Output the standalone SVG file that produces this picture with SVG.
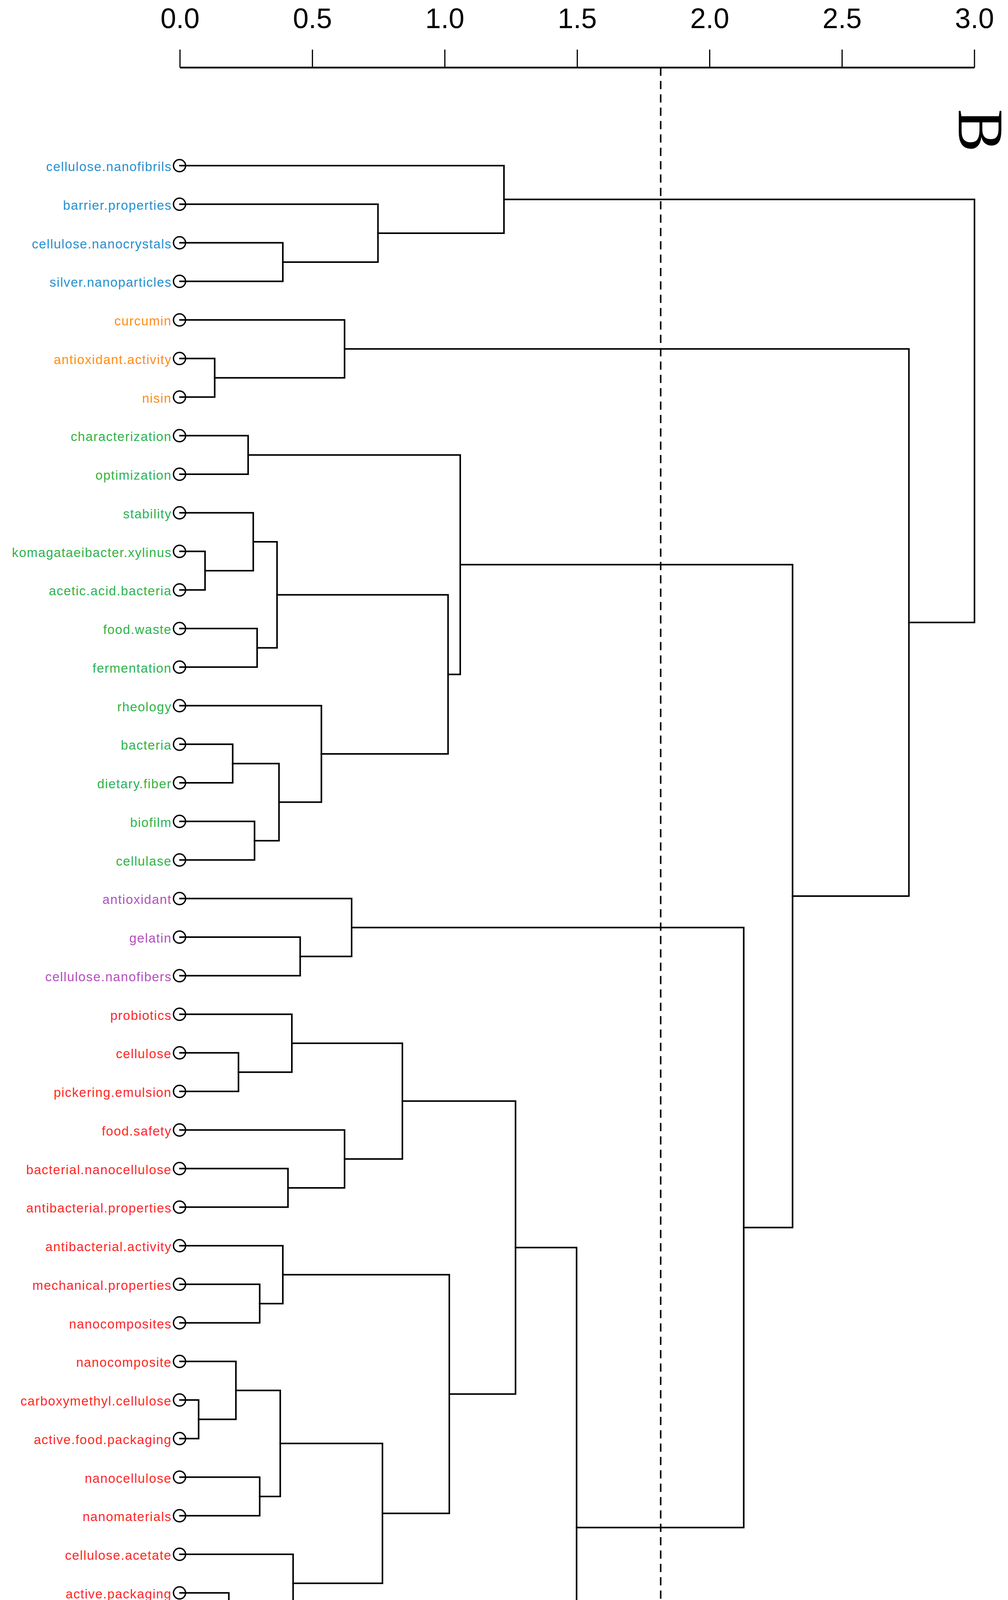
<svg xmlns="http://www.w3.org/2000/svg" width="2580" height="5431" viewBox="0 0 2580 5431">
<style>
.bg{fill:#ffffff}
.axis line{stroke:#000;stroke-width:3}
.axis .base{stroke-width:4.5}
.axis text{font-family:"Liberation Sans",Arial,sans-serif;font-size:72px;text-anchor:middle;fill:#000}
.cut{stroke:#000;stroke-width:4;stroke-dasharray:21 13.2;fill:none}
.edges path{fill:none;stroke:#000;stroke-width:4;stroke-linejoin:miter;stroke-linecap:square}
.leaf circle{fill:none;stroke:#000;stroke-width:3.5}
.leaf text{font-family:"Liberation Sans",Arial,sans-serif;font-size:33px;letter-spacing:1.6px;text-anchor:end}
.blue text{fill:#2590cf}
.orange text{fill:#ff8c1a}
.green text{fill:#2db34a}
.purple text{fill:#b450be}
.red text{fill:#ff2626}
.panel{font-family:"Liberation Serif","Times New Roman",serif;font-size:165px;fill:#000}
</style>
<rect class="bg" x="0" y="0" width="2580" height="5431"/>
<g id="axis" class="axis">
<line class="base" x1="460.7" y1="173" x2="2494.2" y2="173"/>
<line x1="460.7" y1="127" x2="460.7" y2="173"/>
<line x1="799.7" y1="127" x2="799.7" y2="173"/>
<line x1="1138.6" y1="127" x2="1138.6" y2="173"/>
<line x1="1477.6" y1="127" x2="1477.6" y2="173"/>
<line x1="1816.5" y1="127" x2="1816.5" y2="173"/>
<line x1="2155.4" y1="127" x2="2155.4" y2="173"/>
<line x1="2494.2" y1="127" x2="2494.2" y2="173"/>
<text x="460.7" y="72">0.0</text>
<text x="799.7" y="72">0.5</text>
<text x="1138.6" y="72">1.0</text>
<text x="1477.6" y="72">1.5</text>
<text x="1816.5" y="72">2.0</text>
<text x="2155.4" y="72">2.5</text>
<text x="2494.2" y="72">3.0</text>
</g>
<g id="cut-line"><line class="cut" x1="1691" y1="173" x2="1691" y2="5400"/></g>
<g id="panel-label"><text class="panel" transform="translate(2454,279) rotate(90)">B</text></g>
<g id="connectors" class="edges">
<path d="M460.7,621.6 H723.9 V720.35 H460.7"/>
<path d="M460.7,522.85 H967.4 V671.0 H723.9"/>
<path d="M460.7,424.1 H1289.9 V596.9 H967.4"/>
<path d="M460.7,917.85 H549.5 V1016.6 H460.7"/>
<path d="M460.7,819.1 H881.9 V967.2 H549.5"/>
<path d="M460.7,1115.35 H635.1 V1214.1 H460.7"/>
<path d="M460.7,1411.6 H524.8 V1510.35 H460.7"/>
<path d="M460.7,1312.85 H648.2 V1461.0 H524.8"/>
<path d="M460.7,1609.1 H658.1 V1707.85 H460.7"/>
<path d="M648.2,1386.9 H709.1 V1658.5 H658.1"/>
<path d="M460.7,1905.35 H595.6 V2004.1 H460.7"/>
<path d="M460.7,2102.85 H651.5 V2201.6 H460.7"/>
<path d="M595.6,1954.7 H714.1 V2152.2 H651.5"/>
<path d="M460.7,1806.6 H822.6 V2053.5 H714.1"/>
<path d="M709.1,1522.7 H1146.8 V1930.0 H822.6"/>
<path d="M635.1,1164.7 H1178.0 V1726.4 H1146.8"/>
<path d="M460.7,2399.1 H768.3 V2497.85 H460.7"/>
<path d="M460.7,2300.35 H900.0 V2448.5 H768.3"/>
<path d="M460.7,2695.35 H610.4 V2794.1 H460.7"/>
<path d="M460.7,2596.6 H747.0 V2744.7 H610.4"/>
<path d="M460.7,2991.6 H737.1 V3090.35 H460.7"/>
<path d="M460.7,2892.85 H881.9 V3041.0 H737.1"/>
<path d="M747.0,2670.7 H1029.9 V2966.9 H881.9"/>
<path d="M460.7,3287.85 H664.7 V3386.6 H460.7"/>
<path d="M460.7,3189.1 H723.9 V3337.2 H664.7"/>
<path d="M460.7,3584.1 H508.4 V3682.85 H460.7"/>
<path d="M460.7,3485.35 H603.8 V3633.5 H508.4"/>
<path d="M460.7,3781.6 H664.7 V3880.35 H460.7"/>
<path d="M603.8,3559.4 H717.3 V3831.0 H664.7"/>
<path d="M460.7,4077.85 H585.7 V4176.6 H460.7"/>
<path d="M460.7,3979.1 H750.2 V4127.2 H585.7"/>
<path d="M717.3,3695.2 H978.9 V4053.2 H750.2"/>
<path d="M723.9,3263.2 H1150.0 V3874.2 H978.9"/>
<path d="M1029.9,2818.8 H1319.5 V3568.7 H1150.0"/>
<path d="M460.7,4472.85 H658.1 V4571.6 H460.7"/>
<path d="M460.7,4374.1 H806.2 V4522.2 H658.1"/>
<path d="M460.7,4275.35 H900.0 V4448.2 H806.2"/>
<path d="M460.7,4670.35 H671.3 V4769.1 H460.7"/>
<path d="M460.7,4867.85 H691.0 V4966.6 H460.7"/>
<path d="M460.7,5065.35 H557.7 V5164.1 H460.7"/>
<path d="M460.7,5262.85 H646.6 V5361.6 H460.7"/>
<path d="M557.7,5114.7 H691.0 V5312.2 H646.6"/>
<path d="M691.0,4917.2 H914.8 V5213.5 H691.0"/>
<path d="M671.3,4719.7 H998.7 V5065.4 H914.8"/>
<path d="M900.0,4361.8 H1319.5 V4892.5 H998.7"/>
<path d="M1319.5,3193.7 H1475.8 V4627.2 H1319.5"/>
<path d="M900.0,2374.4 H1903.6 V3910.4 H1475.8"/>
<path d="M1178.0,1445.5 H2028.6 V3142.4 H1903.6"/>
<path d="M881.9,893.2 H2326.4 V2294.0 H2028.6"/>
<path d="M1289.9,510.5 H2494.2 V1593.6 H2326.4"/>
</g>
<g id="leaves">
<g id="leaf-cellulose-nanofibrils" class="leaf blue"><circle cx="459.5" cy="424.1" r="15.5"/><text x="439.5" y="438.1">cellulose.nanofibrils</text></g>
<g id="leaf-barrier-properties" class="leaf blue"><circle cx="459.5" cy="522.85" r="15.5"/><text x="439.5" y="536.85">barrier.properties</text></g>
<g id="leaf-cellulose-nanocrystals" class="leaf blue"><circle cx="459.5" cy="621.6" r="15.5"/><text x="439.5" y="635.6">cellulose.nanocrystals</text></g>
<g id="leaf-silver-nanoparticles" class="leaf blue"><circle cx="459.5" cy="720.35" r="15.5"/><text x="439.5" y="734.35">silver.nanoparticles</text></g>
<g id="leaf-curcumin" class="leaf orange"><circle cx="459.5" cy="819.1" r="15.5"/><text x="439.5" y="833.1">curcumin</text></g>
<g id="leaf-antioxidant-activity" class="leaf orange"><circle cx="459.5" cy="917.85" r="15.5"/><text x="439.5" y="931.85">antioxidant.activity</text></g>
<g id="leaf-nisin" class="leaf orange"><circle cx="459.5" cy="1016.6" r="15.5"/><text x="439.5" y="1030.6">nisin</text></g>
<g id="leaf-characterization" class="leaf green"><circle cx="459.5" cy="1115.35" r="15.5"/><text x="439.5" y="1129.35">characterization</text></g>
<g id="leaf-optimization" class="leaf green"><circle cx="459.5" cy="1214.1" r="15.5"/><text x="439.5" y="1228.1">optimization</text></g>
<g id="leaf-stability" class="leaf green"><circle cx="459.5" cy="1312.85" r="15.5"/><text x="439.5" y="1326.85">stability</text></g>
<g id="leaf-komagataeibacter-xylinus" class="leaf green"><circle cx="459.5" cy="1411.6" r="15.5"/><text x="439.5" y="1425.6">komagataeibacter.xylinus</text></g>
<g id="leaf-acetic-acid-bacteria" class="leaf green"><circle cx="459.5" cy="1510.35" r="15.5"/><text x="439.5" y="1524.35">acetic.acid.bacteria</text></g>
<g id="leaf-food-waste" class="leaf green"><circle cx="459.5" cy="1609.1" r="15.5"/><text x="439.5" y="1623.1">food.waste</text></g>
<g id="leaf-fermentation" class="leaf green"><circle cx="459.5" cy="1707.85" r="15.5"/><text x="439.5" y="1721.85">fermentation</text></g>
<g id="leaf-rheology" class="leaf green"><circle cx="459.5" cy="1806.6" r="15.5"/><text x="439.5" y="1820.6">rheology</text></g>
<g id="leaf-bacteria" class="leaf green"><circle cx="459.5" cy="1905.35" r="15.5"/><text x="439.5" y="1919.35">bacteria</text></g>
<g id="leaf-dietary-fiber" class="leaf green"><circle cx="459.5" cy="2004.1" r="15.5"/><text x="439.5" y="2018.1">dietary.fiber</text></g>
<g id="leaf-biofilm" class="leaf green"><circle cx="459.5" cy="2102.85" r="15.5"/><text x="439.5" y="2116.85">biofilm</text></g>
<g id="leaf-cellulase" class="leaf green"><circle cx="459.5" cy="2201.6" r="15.5"/><text x="439.5" y="2215.6">cellulase</text></g>
<g id="leaf-antioxidant" class="leaf purple"><circle cx="459.5" cy="2300.35" r="15.5"/><text x="439.5" y="2314.35">antioxidant</text></g>
<g id="leaf-gelatin" class="leaf purple"><circle cx="459.5" cy="2399.1" r="15.5"/><text x="439.5" y="2413.1">gelatin</text></g>
<g id="leaf-cellulose-nanofibers" class="leaf purple"><circle cx="459.5" cy="2497.85" r="15.5"/><text x="439.5" y="2511.85">cellulose.nanofibers</text></g>
<g id="leaf-probiotics" class="leaf red"><circle cx="459.5" cy="2596.6" r="15.5"/><text x="439.5" y="2610.6">probiotics</text></g>
<g id="leaf-cellulose" class="leaf red"><circle cx="459.5" cy="2695.35" r="15.5"/><text x="439.5" y="2709.35">cellulose</text></g>
<g id="leaf-pickering-emulsion" class="leaf red"><circle cx="459.5" cy="2794.1" r="15.5"/><text x="439.5" y="2808.1">pickering.emulsion</text></g>
<g id="leaf-food-safety" class="leaf red"><circle cx="459.5" cy="2892.85" r="15.5"/><text x="439.5" y="2906.85">food.safety</text></g>
<g id="leaf-bacterial-nanocellulose" class="leaf red"><circle cx="459.5" cy="2991.6" r="15.5"/><text x="439.5" y="3005.6">bacterial.nanocellulose</text></g>
<g id="leaf-antibacterial-properties" class="leaf red"><circle cx="459.5" cy="3090.35" r="15.5"/><text x="439.5" y="3104.35">antibacterial.properties</text></g>
<g id="leaf-antibacterial-activity" class="leaf red"><circle cx="459.5" cy="3189.1" r="15.5"/><text x="439.5" y="3203.1">antibacterial.activity</text></g>
<g id="leaf-mechanical-properties" class="leaf red"><circle cx="459.5" cy="3287.85" r="15.5"/><text x="439.5" y="3301.85">mechanical.properties</text></g>
<g id="leaf-nanocomposites" class="leaf red"><circle cx="459.5" cy="3386.6" r="15.5"/><text x="439.5" y="3400.6">nanocomposites</text></g>
<g id="leaf-nanocomposite" class="leaf red"><circle cx="459.5" cy="3485.35" r="15.5"/><text x="439.5" y="3499.35">nanocomposite</text></g>
<g id="leaf-carboxymethyl-cellulose" class="leaf red"><circle cx="459.5" cy="3584.1" r="15.5"/><text x="439.5" y="3598.1">carboxymethyl.cellulose</text></g>
<g id="leaf-active-food-packaging" class="leaf red"><circle cx="459.5" cy="3682.85" r="15.5"/><text x="439.5" y="3696.85">active.food.packaging</text></g>
<g id="leaf-nanocellulose" class="leaf red"><circle cx="459.5" cy="3781.6" r="15.5"/><text x="439.5" y="3795.6">nanocellulose</text></g>
<g id="leaf-nanomaterials" class="leaf red"><circle cx="459.5" cy="3880.35" r="15.5"/><text x="439.5" y="3894.35">nanomaterials</text></g>
<g id="leaf-cellulose-acetate" class="leaf red"><circle cx="459.5" cy="3979.1" r="15.5"/><text x="439.5" y="3993.1">cellulose.acetate</text></g>
<g id="leaf-active-packaging" class="leaf red"><circle cx="459.5" cy="4077.85" r="15.5"/><text x="439.5" y="4091.85">active.packaging</text></g>
<g id="leaf-electrospinning" class="leaf red"><circle cx="459.5" cy="4176.6" r="15.5"/><text x="439.5" y="4190.6">electrospinning</text></g>
<g id="leaf-bacterial-cellulose" class="leaf red"><circle cx="459.5" cy="4275.35" r="15.5"/><text x="439.5" y="4289.35">bacterial.cellulose</text></g>
<g id="leaf-polysaccharides" class="leaf red"><circle cx="459.5" cy="4374.1" r="15.5"/><text x="439.5" y="4388.1">polysaccharides</text></g>
<g id="leaf-biopolymer" class="leaf red"><circle cx="459.5" cy="4472.85" r="15.5"/><text x="439.5" y="4486.85">biopolymer</text></g>
<g id="leaf-biopolymers" class="leaf red"><circle cx="459.5" cy="4571.6" r="15.5"/><text x="439.5" y="4585.6">biopolymers</text></g>
<g id="leaf-antimicrobial-activity" class="leaf red"><circle cx="459.5" cy="4670.35" r="15.5"/><text x="439.5" y="4684.35">antimicrobial.activity</text></g>
<g id="leaf-biodegradable" class="leaf red"><circle cx="459.5" cy="4769.1" r="15.5"/><text x="439.5" y="4783.1">biodegradable</text></g>
<g id="leaf-antibacterial" class="leaf red"><circle cx="459.5" cy="4867.85" r="15.5"/><text x="439.5" y="4881.85">antibacterial</text></g>
<g id="leaf-composite-film" class="leaf red"><circle cx="459.5" cy="4966.6" r="15.5"/><text x="439.5" y="4980.6">composite.film</text></g>
<g id="leaf-food-packaging" class="leaf red"><circle cx="459.5" cy="5065.35" r="15.5"/><text x="439.5" y="5079.35">food.packaging</text></g>
<g id="leaf-chitosan" class="leaf red"><circle cx="459.5" cy="5164.1" r="15.5"/><text x="439.5" y="5178.1">chitosan</text></g>
<g id="leaf-antimicrobial" class="leaf red"><circle cx="459.5" cy="5262.85" r="15.5"/><text x="439.5" y="5276.85">antimicrobial</text></g>
<g id="leaf-packaging" class="leaf red"><circle cx="459.5" cy="5361.6" r="15.5"/><text x="439.5" y="5375.6">packaging</text></g>
</g>
</svg>
